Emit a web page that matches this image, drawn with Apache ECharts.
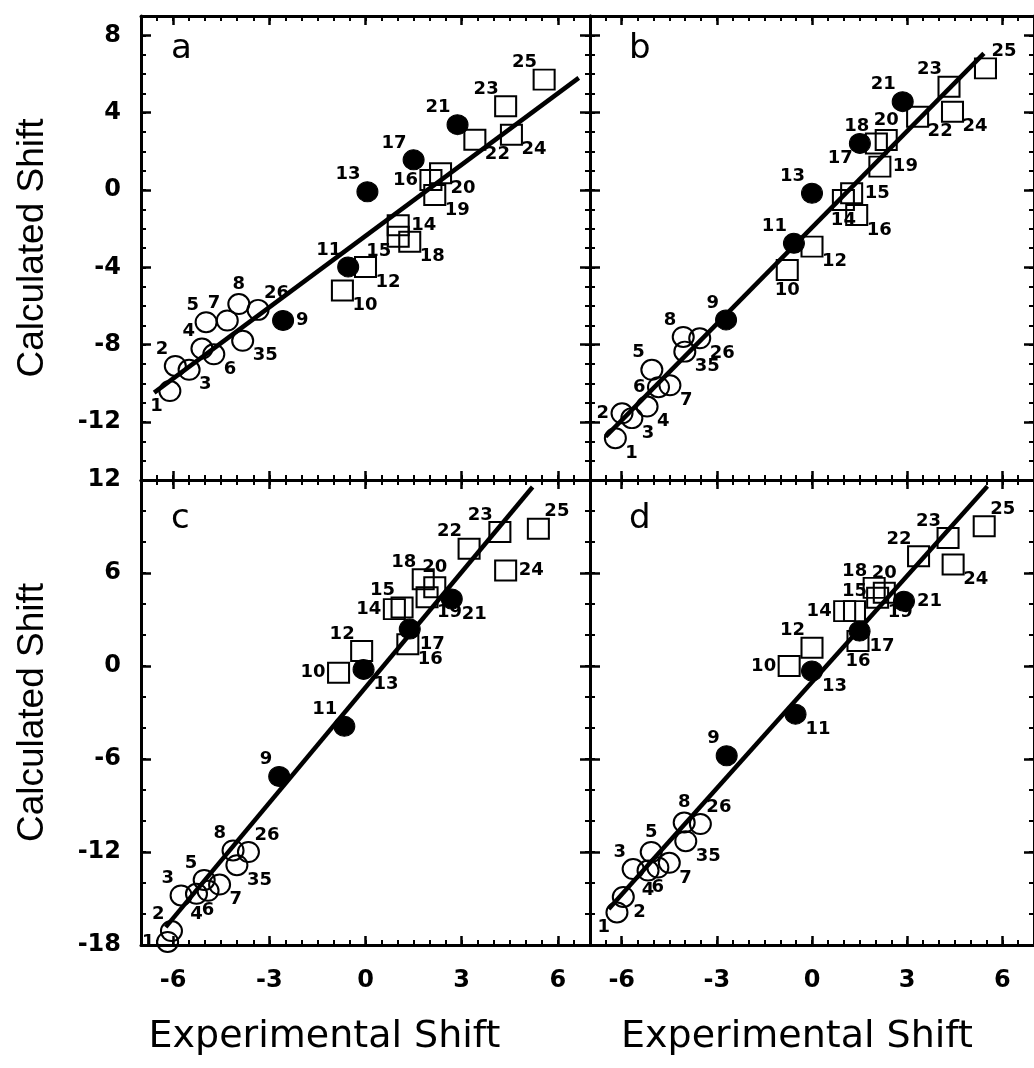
<!DOCTYPE html>
<html><head><meta charset="utf-8">
<script src="https://cdn.jsdelivr.net/npm/echarts@6/dist/echarts.min.js"></script>
<style>html,body{margin:0;padding:0;background:#fff}#c{width:1034px;height:1068px}</style>
</head><body><div id="c"></div>
<script>
// point identifiers and marker kinds (o = open circle, f = filled circle, s = open square)
const ids  = ['1','2','3','4','5','6','7','8','26','35','9','11','13','17','21','10','12','14','15','16','18','19','20','22','23','24','25'];
const kind = ['o','o','o','o','o','o','o','o','o','o','f','f','f','f','f','s','s','s','s','s','s','s','s','s','s','s','s'];

// panel a
const aX = [-6.1,-5.93,-5.5,-5.1,-4.97,-4.73,-4.31,-3.95,-3.35,-3.83,-2.57,-0.54,0.06,1.5,2.87,-0.72,0.0,1.02,1.02,2.04,1.38,2.16,2.34,3.41,4.37,4.55,5.57];
const aY = [-10.4,-9.1,-9.3,-8.2,-6.84,-8.5,-6.75,-5.9,-6.2,-7.8,-6.75,-3.98,-0.09,1.56,3.38,-5.2,-3.98,-1.82,-2.42,0.52,-2.68,-0.26,0.87,2.6,4.33,2.86,5.71];
const aLine = [[-6.59,-10.48],[6.65,5.8]];
const aLab = ['bl','tl','br','tl','tl','br','tl','t','tr','br','r','tl','tl','tl','tl','br','br','r','bl','l','br','br','br','br','tl','br','tl'];

// panel b
const bX = [-6.2,-5.99,-5.68,-5.2,-5.05,-4.84,-4.48,-4.06,-3.54,-4.01,-2.71,-0.57,0.0,1.51,2.86,-0.78,0.0,0.99,1.25,1.41,2.03,2.14,2.34,3.33,4.32,4.43,5.47];
const bY = [-12.84,-11.55,-11.8,-11.2,-9.3,-10.2,-10.1,-7.6,-7.67,-8.36,-6.72,-2.76,-0.17,2.41,4.57,-4.14,-2.93,-0.52,-0.17,-1.29,2.41,1.21,2.59,3.79,5.34,4.05,6.29];
const bLine = [[-6.51,-12.76],[5.42,7.07]];
const bLab = ['br','l','br','br','tl','l','br','tl','br','br','tl','tl','tl','bl','tl','b','br','b','r','br','tl','r','t','br','tl','br','tr'];

// panel c
const cX = [-6.17,-6.05,-5.75,-5.27,-5.03,-4.91,-4.55,-4.13,-3.65,-4.01,-2.69,-0.66,-0.06,1.38,2.69,-0.84,-0.12,0.9,1.14,1.32,1.8,1.92,2.16,3.23,4.19,4.37,5.39];
const cY = [-17.8,-17.1,-14.8,-14.7,-13.8,-14.5,-14.1,-11.9,-12.0,-12.85,-7.13,-3.89,-0.22,2.38,4.32,-0.43,0.97,3.67,3.78,1.4,5.6,4.43,5.08,7.56,8.64,6.16,8.86];
const cLine = [[-6.23,-16.85],[5.21,11.55]];
const cLab = ['l','tl','tl','b','tl','b','br','tl','tr','br','tl','tl','br','br','br','l','tl','l','tl','br','tl','br','t','tl','tl','r','tr'];

// panel d
const dX = [-6.15,-5.95,-5.64,-5.17,-5.07,-4.86,-4.5,-4.03,-3.52,-3.98,-2.69,-0.52,0.0,1.5,2.9,-0.72,0.0,1.03,1.34,1.45,1.96,2.07,2.28,3.36,4.29,4.45,5.43];
const dY = [-15.9,-14.9,-13.1,-13.2,-12.0,-13.0,-12.7,-10.1,-10.2,-11.3,-5.79,-3.11,-0.32,2.25,4.18,0.0,1.18,3.54,3.54,1.61,5.04,4.4,4.72,7.08,8.26,6.55,9.01];
const dLine = [[-6.41,-15.67],[5.53,11.59]];
const dLab = ['bl','br','tl','b','t','b','br','t','tr','br','tl','br','br','br','r','l','tl','l','t','b','tl','br','t','tl','tl','br','tr'];

// axis ticks
const xTicks = [-6,-3,0,3,6];
const yTicksTop = [-12,-8,-4,0,4,8];
const yTicksBottom = [-18,-12,-6,0,6,12];
const panelLetters = ['a','b','c','d'];

const FONT = '"Liberation Sans", Arial, Helvetica, sans-serif';
const WFONT = '"DejaVu Sans", Verdana, sans-serif';
const LAB = {
  tl:{align:'right',verticalAlign:'bottom',offset:[-7,-8]},
  tr:{align:'left',verticalAlign:'bottom',offset:[6,-8]},
  bl:{align:'right',verticalAlign:'top',offset:[-7,6]},
  br:{align:'left',verticalAlign:'top',offset:[10,6]},
  l:{align:'right',verticalAlign:'middle',offset:[-13,0]},
  r:{align:'left',verticalAlign:'middle',offset:[13,0]},
  t:{align:'center',verticalAlign:'bottom',offset:[0,-11]},
  b:{align:'center',verticalAlign:'top',offset:[0,11]}
};

const panels = [
  {X:aX,Y:aY,L:aLine,lab:aLab,top:true,left:true},
  {X:bX,Y:bY,L:bLine,lab:bLab,top:true,left:false},
  {X:cX,Y:cY,L:cLine,lab:cLab,top:false,left:true},
  {X:dX,Y:dY,L:dLine,lab:dLab,top:false,left:false}
];

const grids = [
  {left:141,top:16,width:449,height:464},
  {left:590,top:16,width:449,height:464},
  {left:141,top:480,width:449,height:465},
  {left:590,top:480,width:449,height:465}
];

const xAxis = [], yAxis = [], series = [];
const lineW = 3;
function majorTick(len, vals){return {show:true,inside:true,length:len,customValues:vals,lineStyle:{color:'#000',width:2.5}};}
function minorTick(len){return {show:true,inside:true,length:len,lineStyle:{color:'#000',width:2}};}

panels.forEach((p,gi)=>{
  const yr = p.top ? [-15,9] : [-18,12];
  const yMaj = p.top ? yTicksTop : yTicksBottom;
  const yMinInt = p.top ? 1 : 2;
  ['bottom','top'].forEach(pos=>{
    const showName = (pos==='bottom' && !p.top);
    xAxis.push({gridIndex:gi,type:'value',min:-7,max:7,position:pos,
      axisLine:{show:true,onZero:false,lineStyle:{color:'#000',width:lineW}},
      axisTick:majorTick(9,xTicks),
      axisLabel:{show:showName,customValues:xTicks,margin:24,fontSize:24,color:'#000',fontFamily:WFONT,fontWeight:'bold',formatter:v=>String(v)},
      splitLine:{show:false},
      name:showName?'Experimental Shift':'',nameLocation:'middle',nameGap:73,
      nameTextStyle:{fontSize:38,color:'#000',fontFamily:WFONT,padding:p.left?[0,82,0,0]:[0,30,0,0]}
    });
    xAxis.push({gridIndex:gi,type:'value',min:-7,max:7,interval:0.5,position:pos,
      axisLine:{show:false,onZero:false},axisTick:minorTick(5),axisLabel:{show:false},splitLine:{show:false}});
  });
  ['left','right'].forEach(pos=>{
    const showName = (pos==='left' && p.left);
    yAxis.push({gridIndex:gi,type:'value',min:yr[0],max:yr[1],position:pos,
      axisLine:{show:true,onZero:false,lineStyle:{color:'#000',width:lineW}},
      axisTick:majorTick(10,yMaj),
      axisLabel:{show:showName,customValues:yMaj,margin:20,fontSize:24,color:'#000',fontFamily:WFONT,fontWeight:'bold',formatter:v=>String(v)},
      splitLine:{show:false},
      name:showName?'Calculated Shift':'',nameLocation:'middle',nameGap:90,nameRotate:90,
      nameTextStyle:{fontSize:37,color:'#000',fontFamily:FONT}
    });
    yAxis.push({gridIndex:gi,type:'value',min:yr[0],max:yr[1],interval:yMinInt,position:pos,
      axisLine:{show:false,onZero:false},axisTick:minorTick(5),axisLabel:{show:false},splitLine:{show:false}});
  });
  const groups = {o:[],f:[],s:[]};
  ids.forEach((id,i)=>{
    const L = LAB[p.lab[i]];
    groups[kind[i]].push({value:[p.X[i],p.Y[i]],name:id,
      label:{show:true,position:'inside',formatter:id,align:L.align,verticalAlign:L.verticalAlign,offset:L.offset,
        fontSize:18,color:'#000',opacity:1,fontFamily:WFONT,fontWeight:'bold',textBorderWidth:0}});
  });
  const base = {type:'scatter',xAxisIndex:gi*4,yAxisIndex:gi*4,symbolSize:[21,20],z:3};
  series.push(Object.assign({},base,{symbol:'circle',data:groups.o,itemStyle:{color:'rgba(255,255,255,0)',borderColor:'#000',borderWidth:2,opacity:1}}));
  series.push(Object.assign({},base,{symbol:'rect',data:groups.s,itemStyle:{color:'rgba(255,255,255,0)',borderColor:'#000',borderWidth:2,opacity:1}}));
  series.push(Object.assign({},base,{symbol:'circle',data:groups.f,itemStyle:{color:'#000',borderColor:'#000',borderWidth:1,opacity:1}}));
  series.push({type:'line',xAxisIndex:gi*4,yAxisIndex:gi*4,data:p.L,symbol:'none',z:5,
    lineStyle:{color:'#000',width:4.5},silent:true});
});

const graphic = [
  {type:'text',left:171,top:32,style:{text:panelLetters[0],fontSize:34,fill:'#000',fontFamily:WFONT}},
  {type:'text',left:629,top:32,style:{text:panelLetters[1],fontSize:34,fill:'#000',fontFamily:WFONT}},
  {type:'text',left:171,top:502,style:{text:panelLetters[2],fontSize:34,fill:'#000',fontFamily:WFONT}},
  {type:'text',left:629,top:502,style:{text:panelLetters[3],fontSize:34,fill:'#000',fontFamily:WFONT}}
];

const chart = echarts.init(document.getElementById('c'),null,{renderer:'canvas'});
chart.setOption({animation:false,backgroundColor:'#fff',grid:grids,xAxis,yAxis,series,graphic});
</script>
</body></html>
